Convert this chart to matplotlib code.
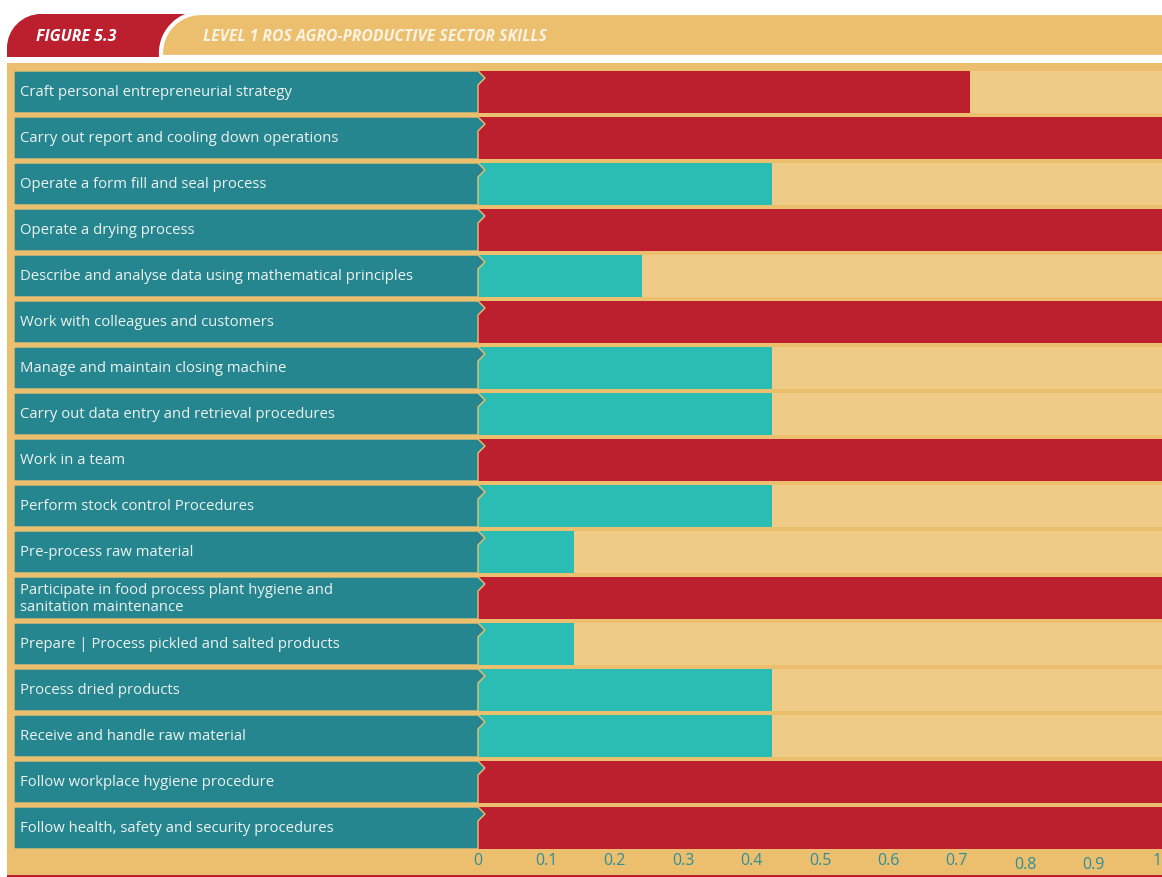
import matplotlib
matplotlib.use("Agg")
import matplotlib.pyplot as plt
from matplotlib.patches import Polygon, PathPatch, Rectangle
from matplotlib.path import Path
from matplotlib.transforms import blended_transform_factory
import numpy as np

plt.rcParams['font.family'] = ['Open Sans', 'DejaVu Sans']

# ---- data ----
skills = [
    "Craft personal entrepreneurial strategy",
    "Carry out report and cooling down operations",
    "Operate a form fill and seal process",
    "Operate a drying process",
    "Describe and analyse data using mathematical principles",
    "Work with colleagues and customers",
    "Manage and maintain closing machine",
    "Carry out data entry and retrieval procedures",
    "Work in a team",
    "Perform stock control Procedures",
    "Pre-process raw material",
    "Participate in food process plant hygiene and\nsanitation maintenance",
    "Prepare | Process pickled and salted products",
    "Process dried products",
    "Receive and handle raw material",
    "Follow workplace hygiene procedure",
    "Follow health, safety and security procedures",
]
scores = [0.72, 1.0, 0.43, 1.0, 0.24, 1.0, 0.43, 0.43, 1.0, 0.43,
          0.14, 1.0, 0.14, 0.43, 0.43, 1.0, 1.0]
tick_values = [0, 0.1, 0.2, 0.3, 0.4, 0.5, 0.6, 0.7, 0.8, 0.9, 1]
tick_labels = ["0", "0.1", "0.2", "0.3", "0.4", "0.5", "0.6", "0.7", "0.8", "0.9", "1"]
figure_no = "FIGURE 5.3"
title = "LEVEL 1 ROS AGRO-PRODUCTIVE SECTOR SKILLS"

# ---- palette ----
RED = "#bc1f2d"
TEAL_DARK = "#25868f"
TEAL_BAR = "#2bbcb3"
FRAME = "#ecbf6f"
TRACK = "#eecb87"
TICK = "#2e8f98"
LABEL = "#eef3f1"

W, H = 1162, 877
fig = plt.figure(figsize=(W / 100, H / 100), dpi=100)
fig.patch.set_facecolor("white")

# background layer in pixel coordinates
bg = fig.add_axes([0, 0, 1, 1], zorder=0)
bg.set_xlim(0, W)
bg.set_ylim(H, 0)
bg.axis("off")


def tab_path(x0, x1, y0, y1, r):
    """Rectangle whose top-left corner is rounded with radius r."""
    k = 0.5523
    verts = [(x0, y1), (x0, y0 + r),
             (x0, y0 + r - k * r), (x0 + r - k * r, y0), (x0 + r, y0),
             (x1, y0), (x1, y1), (x0, y1)]
    codes = [Path.MOVETO, Path.LINETO, Path.CURVE4, Path.CURVE4, Path.CURVE4,
             Path.LINETO, Path.LINETO, Path.CLOSEPOLY]
    return Path(verts, codes)


bg.add_patch(PathPatch(tab_path(7, 260, 14, 57, 34), facecolor=RED, edgecolor="none"))
bg.add_patch(PathPatch(tab_path(161, W + 5, 13, 57, 40), facecolor=FRAME,
                       edgecolor="white", linewidth=3))
bg.add_patch(Rectangle((150, 57), 30, 6, facecolor="white", edgecolor="none"))
bg.text(36, 37, figure_no, color="white", fontsize=11.5, fontweight="bold",
        fontstyle="italic", va="center", ha="left")
bg.text(203, 37, title, color="#fbf3e2", fontsize=11.3, fontweight="bold",
        fontstyle="italic", va="center", ha="left")

# main frame
bg.add_patch(Rectangle((7, 63), W - 7, 812, facecolor=FRAME, edgecolor="none"))
bg.add_patch(Rectangle((7, 875), W - 7, 2, facecolor=RED, edgecolor="none"))

# ---- bar panel ----
PX0, PX_UNIT = 478, 684       # pixel of value 0, pixels per unit
ROW_TOP, PITCH, ROW_H = 71, 46, 42
n = len(skills)
top_px = ROW_TOP + ROW_H / 2 - PITCH / 2
bot_px = top_px + n * PITCH
left_px = 14
ax = fig.add_axes([left_px / W, (H - bot_px) / H, (PX0 + PX_UNIT - left_px) / W,
                   (bot_px - top_px) / H], zorder=1)
ax.set_facecolor("none")
xmin = (left_px - PX0) / PX_UNIT
ax.set_xlim(xmin, 1)
ax.set_ylim(n - 0.5, -0.5)
for s in ax.spines.values():
    s.set_visible(False)

y = np.arange(n)
h = ROW_H / PITCH
colors = [RED if v > 0.5 else TEAL_BAR for v in scores]
ax.barh(y, [1] * n, height=h, left=0, color=TRACK, zorder=1)
ax.barh(y, scores, height=h, left=0, color=colors, zorder=2)

# label boxes with a small chevron at the top of the right edge
cx = 7 / PX_UNIT
for i, name in enumerate(skills):
    t = i - h / 2
    b = i + h / 2
    verts = [(xmin, t), (0, t), (cx, t + 7 / PITCH), (0, t + 14 / PITCH),
             (0, b), (xmin, b)]
    ax.add_patch(Polygon(verts, closed=True, facecolor=TEAL_DARK,
                         edgecolor=FRAME, linewidth=1.0, zorder=3))
    ax.text((20 - PX0) / PX_UNIT, i + (0.0 if "\n" not in name else 0.02), name,
            color=LABEL, fontsize=10.7, va="center", ha="left", zorder=4,
            linespacing=1.25)

# value axis labels along the bottom
ax.set_xticks([])
ax.set_yticks([])
tr = blended_transform_factory(ax.transData, ax.transAxes)
label_y = -(861 - bot_px) / (bot_px - top_px)
for v, lab in zip(tick_values, tick_labels):
    dy = -4 / (bot_px - top_px) if v in (0.8, 0.9) else 0
    ha = "right" if v == 1 else "center"
    ax.text(v, label_y + dy, lab, transform=tr, color=TICK, fontsize=11.5,
            ha=ha, va="center", clip_on=False)

fig.savefig("out.png", dpi=100, facecolor="white")
